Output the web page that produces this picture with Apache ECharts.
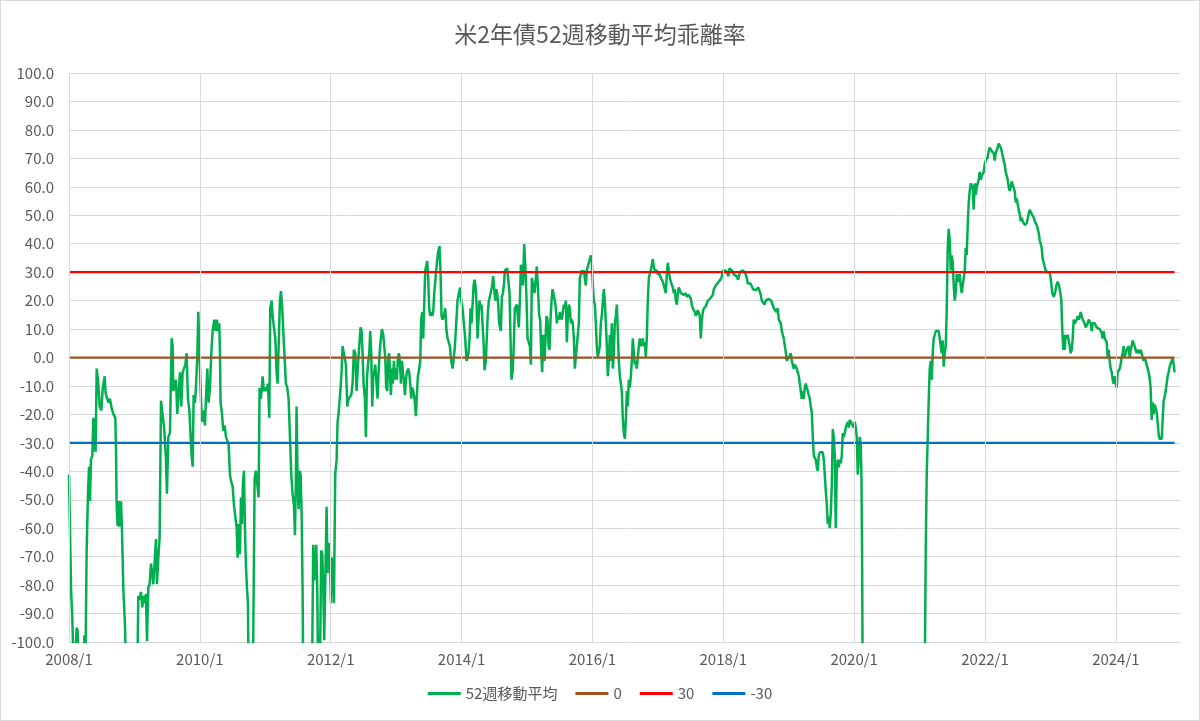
<!DOCTYPE html>
<html><head><meta charset="utf-8">
<script src="https://cdn.jsdelivr.net/npm/echarts@6/dist/echarts.min.js"></script>
<style>html,body{margin:0;padding:0;background:#fff}#c{width:1200px;height:721px;box-sizing:border-box;border:1px solid #d9d9d9}</style>
</head><body><div id="c"></div><script>
const START_YEAR = 2008;
// years elapsed since 2008/1 for each observation
const t = [
0.000,0.031,0.051,0.076,0.117,0.132,0.143,0.219,0.234,0.250,0.270,0.290,0.306,0.321,0.336,0.357,0.372,0.382,0.392,0.407,
0.423,0.443,0.469,0.494,0.514,0.545,0.560,0.581,0.601,0.626,0.652,0.677,0.708,0.718,0.728,0.743,0.759,0.774,0.795,0.810,
0.830,0.856,0.876,0.958,1.044,1.059,1.080,1.100,1.120,1.136,1.156,1.176,1.192,1.212,1.232,1.253,1.273,1.288,1.309,1.329,
1.344,1.365,1.385,1.406,1.431,1.456,1.482,1.497,1.518,
1.543,1.569,1.584,1.594,1.615,1.635,1.655,1.676,1.696,1.716,1.737,1.757,1.778,1.798,1.818,1.839,1.859,1.874,1.890,1.905,
1.925,1.940,1.961,1.976,1.991,2.007,2.027,2.042,2.063,2.078,2.093,2.114,2.134,2.154,2.175,2.195,2.221,2.241,2.261,2.282,
2.297,2.307,2.317,2.338,2.358,2.378,2.399,2.419,2.440,2.460,2.480,2.501,2.521,2.541,2.562,2.577,2.592,2.613,2.628,2.643,
2.659,2.674,2.689,2.704,2.720,2.735,2.745,2.771,2.796,2.816,2.837,2.857,2.878,2.898,2.913,2.929,2.944,2.959,2.979,3.000,
3.020,3.040,3.061,3.076,3.097,3.112,3.132,3.153,3.173,3.188,3.204,
3.224,3.239,3.259,3.275,3.295,3.315,3.336,3.356,3.377,3.397,3.417,3.438,3.453,3.468,3.478,3.494,3.509,3.524,3.540,3.555,
3.570,3.580,3.647,3.713,3.733,3.748,3.764,3.779,3.794,3.809,3.835,3.855,3.871,3.886,3.901,3.922,3.937,3.952,3.973,3.988,
4.003,4.018,4.034,4.049,4.069,4.090,4.105,4.120,4.135,4.151,4.166,4.181,4.197,4.212,4.232,4.253,4.273,4.293,4.314,4.334,
4.354,4.375,4.395,4.416,4.436,4.456,4.472,4.487,4.502,4.523,4.538,4.553,4.569,4.589,4.604,4.619,4.635,4.650,4.665,4.680,
4.701,4.716,4.731,4.747,4.767,4.782,4.803,4.818,4.833,4.848,4.864,4.879,4.894,
4.905,4.920,4.935,4.950,4.966,4.981,4.996,5.011,5.027,5.042,5.057,5.073,5.088,5.103,5.118,5.134,5.149,5.164,5.185,5.200,
5.215,5.230,5.246,5.261,5.281,5.302,5.317,5.332,5.353,5.368,5.383,5.399,5.414,5.429,5.444,5.460,5.475,5.490,5.505,5.521,
5.536,5.551,5.567,5.582,5.602,5.623,5.643,5.663,5.679,5.694,5.709,5.730,5.750,5.770,5.786,5.806,5.821,5.842,5.862,5.877,
5.898,5.918,5.938,5.959,5.979,5.994,6.015,6.035,6.055,6.076,6.091,6.106,6.122,6.137,6.152,6.168,6.183,6.198,6.213,6.229,
6.244,6.259,6.274,6.290,6.305,6.320,6.336,6.351,6.371,6.387,6.402,6.417,6.432,6.453,6.468,6.483,6.499,6.514,6.529,6.544,
6.560,6.575,
6.585,6.600,6.616,6.631,6.646,6.662,6.677,6.697,6.718,6.733,6.748,6.763,6.779,6.794,6.814,6.830,6.845,6.860,6.875,6.891,
6.906,6.921,6.937,6.957,6.977,6.993,7.008,7.023,7.044,7.059,7.074,7.094,7.115,7.135,7.150,7.171,7.186,7.201,7.217,7.232,
7.247,7.268,7.283,7.298,7.313,7.329,7.344,7.359,7.375,7.390,7.410,7.425,7.441,7.456,7.471,7.486,7.502,7.517,7.532,7.548,
7.563,7.578,7.593,7.609,7.624,7.639,7.655,7.670,7.685,7.700,7.716,7.731,7.746,7.761,7.777,7.792,7.807,7.823,7.838,7.853,
7.869,7.884,7.899,7.914,7.930,7.945,7.960,7.975,7.991,8.006,8.021,8.037,8.052,8.067,8.082,8.098,8.113,8.128,8.143,8.159,
8.174,8.189,8.205,8.220,8.235,8.250,
8.266,8.281,8.296,8.312,8.327,8.342,8.358,8.373,8.388,8.403,8.419,8.434,8.449,8.464,8.480,8.495,8.510,8.526,8.541,8.556,
8.571,8.587,8.602,8.617,8.633,8.648,8.663,8.678,8.694,8.709,8.724,8.740,8.755,8.770,8.785,8.801,8.816,8.831,8.846,8.862,
8.877,8.892,8.908,8.923,8.938,8.953,8.969,8.984,8.999,9.015,9.030,9.045,9.060,9.076,9.091,9.106,9.121,9.137,9.152,9.167,
9.183,9.198,9.213,9.228,9.244,9.259,9.274,9.290,9.305,9.320,9.335,9.351,9.366,9.381,9.396,9.412,9.427,9.442,9.458,9.473,
9.488,9.503,9.519,9.534,9.549,9.565,9.580,9.595,9.610,9.626,9.641,9.656,9.672,9.687,9.702,9.717,9.733,9.748,9.763,9.779,
9.794,9.809,9.824,9.840,9.855,9.870,9.886,9.901,9.916,9.931,
9.947,9.972,9.997,10.018,10.038,10.059,10.079,10.094,10.115,10.135,10.155,10.176,10.201,10.227,10.252,10.278,10.303,10.328,10.344,10.359,
10.374,10.395,10.415,10.435,10.456,10.476,10.497,10.517,10.537,10.558,10.573,10.588,10.609,10.629,10.649,10.670,10.690,10.711,10.731,10.751,
10.772,10.792,10.812,10.833,10.848,10.863,10.879,10.894,10.909,10.925,10.940,10.955,10.970,10.986,11.001,11.016,11.031,11.047,11.062,11.077,
11.093,11.108,11.123,11.138,11.154,11.169,11.184,11.199,11.215,11.230,11.245,11.261,11.276,11.291,11.306,11.322,11.337,11.352,11.368,11.383,
11.398,11.413,11.429,11.444,11.459,11.475,11.490,11.505,11.520,11.536,11.551,11.566,11.582,11.597,11.612,
11.627,11.643,11.658,11.673,11.688,11.704,11.719,11.734,11.750,11.765,11.780,11.795,11.811,11.826,11.841,11.856,11.872,11.887,11.902,11.918,
11.933,11.948,11.963,11.979,11.994,12.009,12.024,12.040,12.055,12.070,12.086,12.101,12.111,12.121,12.131,12.391,12.646,12.900,13.079,13.094,
13.109,13.125,13.140,13.155,13.171,13.186,13.201,13.216,13.232,13.247,13.262,13.277,13.293,
13.308,13.323,13.338,13.354,13.369,13.384,13.400,13.415,13.430,13.445,13.461,13.476,13.491,13.507,13.522,13.537,13.552,13.568,13.583,13.598,
13.613,13.629,13.644,13.659,13.675,13.690,13.705,13.720,13.736,13.751,13.766,13.781,13.797,13.812,13.827,13.843,13.858,13.873,13.888,13.904,
13.919,13.934,13.950,13.965,13.980,13.995,14.011,14.026,14.041,14.056,14.072,14.087,14.102,14.118,14.133,14.148,14.163,14.179,14.194,14.209,
14.224,14.240,14.255,14.270,14.286,14.301,14.316,14.331,14.347,14.362,14.377,14.392,14.408,14.423,14.438,14.454,14.469,14.484,14.499,14.515,
14.530,14.545,14.561,14.576,14.591,14.606,14.622,14.637,14.652,14.667,14.683,14.698,14.713,14.729,14.744,14.759,14.774,14.790,14.805,14.820,
14.836,14.851,14.866,14.881,14.897,14.912,14.927,14.942,14.958,14.973,
14.989,15.009,15.029,15.050,15.070,15.090,15.111,15.131,15.152,15.167,15.177,15.187,15.197,15.208,15.218,15.233,15.248,15.264,15.279,15.294,
15.309,15.325,15.340,15.355,15.370,15.386,15.401,15.416,15.432,15.447,15.462,15.477,15.493,15.508,15.523,15.539,15.554,15.569,15.584,15.600,
15.615,15.630,15.645,15.661,15.676,15.691,15.707,15.722,15.737,15.752,15.768,15.783,15.798,15.814,15.829,15.844,15.859,15.875,15.890,15.905,
15.920,15.936,15.951,15.966,15.981,15.997,16.012,16.027,16.043,16.058,16.073,16.088,16.104,16.119,16.134,16.150,16.165,16.180,16.195,16.211,
16.226,16.241,16.256,16.272,16.287,16.302,16.317,16.333,16.348,16.363,16.379,16.394,16.409,16.424,16.440,16.455,16.470,16.486,16.501,16.516,
16.531,16.547,16.562,16.577,16.593,16.608,16.623,16.638,16.654,16.669,16.684,16.700,16.715,16.730,16.745,16.761,16.776,16.791,16.806,16.822,
16.837,16.852,16.867,16.883,16.898
];
// 52-week moving-average deviation rate (%)
const values = [
-41.1,-81.0,-91.7,-115,-95.0,-96.0,-115,-120,-97.6,-110,-67.7,-47.8,-38.4,-50.4,-35.8,-34.5,-21.2,-33.1,-21.8,-33.1,
-3.9,-7.9,-17.2,-18.6,-11.3,-6.6,-12.5,-12.5,-15.8,-14.5,-17.9,-19.8,-21.2,-31.9,-51.9,-59.2,-50.5,-59.5,-50.5,-61.0,
-81.0,-94.4,-115,-130,-112,-83.8,-85.1,-82.4,-87.8,-83.8,-86.4,-83.1,-99.7,-81.0,-79.7,-72.4,-71.8,-79.7,-71.8,-63.8,
-79.7,-70.4,-63.1,-15.2,-14.5,-25.1,-35.9,-47.9,-27.9,
-26.5,6.8,4.1,-11.8,-11.8,-7.8,-19.8,-19.8,-5.2,-17.2,-5.2,-5.2,-2.5,1.5,-14.5,-18.5,-27.8,-34.5,-38.4,-13.2,
-16.0,-10.5,0.1,16.1,4.1,-7.8,-21.2,-22.6,-18.6,-23.9,-14.5,-3.9,-15.9,-10.6,1.5,9.3,13.3,9.3,13.3,9.3,
12.0,1.5,-15.9,-19.8,-25.8,-23.9,-27.9,-27.9,-30.6,-41.2,-43.8,-45.2,-51.9,-51.9,-59.9,-70.4,-58.5,-69.1,-49.2,-58.5,
-43.8,-39.8,-59.9,-73.1,-81.0,-86.4,-115,-125,-115,-99.0,-42.5,-39.8,-39.8,-49.2,-10.6,-14.5,-11.8,-6.6,-11.8,-10.6,
-11.8,-9.2,-21.2,17.3,20.0,14.6,10.6,6.7,-5.2,-9.2,4.0,
20.0,23.3,17.3,9.3,0.1,-9.2,-10.6,-14.5,-27.9,-41.2,-47.9,-51.9,-62.5,-42.5,-17.2,-43.8,-53.2,-39.8,-41.2,-54.5,
-81.0,-115,-135,-115,-65.8,-78.4,-77.8,-65.8,-81.0,-115,-110,-67.8,-69.1,-81.0,-99.4,-99.4,-52.5,-75.8,-65.2,-67.8,
-86.4,-70.4,-71.8,-86.4,-41.2,-35.9,-22.6,-19.8,-19.8,-10.6,-5.2,4.0,4.0,0.1,-2.5,-17.2,-14.5,-14.5,-13.2,-9.2,
2.7,1.5,-11.8,-2.5,4.0,10.6,9.3,1.5,-9.2,-14.5,-27.9,-7.8,-2.5,1.5,9.3,1.5,-17.2,-6.6,-5.2,-2.5,
-2.5,-14.5,-5.2,1.5,6.7,10.0,8.0,4.0,0.1,-10.6,-11.8,0.1,1.5,
-5.2,-13.2,-3.9,-9.2,-1.2,-7.8,-3.9,-7.8,0.1,1.5,-1.2,-9.2,-1.2,-5.2,-7.8,-13.2,-7.8,-5.2,-3.9,-5.2,
-9.2,-14.5,-10.6,-11.8,-14.5,-20.6,-13.2,-6.6,-3.9,-1.2,13.4,16.0,6.7,18.6,30.6,30.6,33.9,27.9,17.3,14.6,
16.0,14.6,16.0,22.6,27.9,33.3,37.2,39.2,29.3,14.6,13.3,14.6,17.3,9.3,6.7,6.7,4.0,-1.2,-3.9,-1.2,
4.0,12.0,20.0,22.6,24.6,20.0,17.3,12.0,6.7,-1.2,-1.2,1.5,6.7,17.3,12.0,18.6,25.3,27.3,25.3,18.6,
6.7,13.3,20.0,17.3,18.6,12.0,5.4,-4.5,-1.2,8.0,16.0,20.0,21.3,21.3,25.3,28.6,24.0,20.0,24.0,22.6,
18.6,12.0,
12.0,9.3,21.3,22.6,25.3,30.6,31.3,31.3,30.6,22.6,6.7,-7.8,-5.2,1.5,17.3,18.0,18.6,18.6,10.6,20.0,
32.6,30.6,25.3,39.9,30.6,20.0,6.7,6.0,4.0,-2.5,28.0,25.3,22.6,28.0,32.0,22.6,14.6,13.3,1.5,-5.2,
8.0,-1.2,-1.2,14.6,13.3,4.0,2.7,13.3,20.0,24.0,24.0,20.0,17.3,12.0,14.6,13.3,16.0,14.6,13.3,16.0,
18.6,17.3,20.0,5.4,14.6,18.6,17.3,12.0,13.3,12.0,6.7,-3.9,0.1,4.0,4.0,12.0,28.0,28.0,30.6,29.3,
30.6,31.3,25.3,30.6,30.6,33.3,33.3,35.9,33.3,25.3,20.0,18.6,12.0,4.0,0.1,0.1,4.0,12.0,14.6,20.0,
24.0,20.0,12.0,4.0,-6.6,-1.2,
8.0,-1.2,12.0,-3.9,1.5,12.0,14.6,18.6,9.3,-1.2,-6.6,-9.2,-11.8,-21.2,-26.6,-28.6,-22.6,-11.8,-17.2,-7.8,
-10.6,-6.6,-1.2,6.7,1.5,-2.5,-1.2,-3.9,-3.2,4.0,6.7,4.0,4.0,6.7,4.0,5.4,0.1,6.7,20.0,28.0,
27.3,30.6,30.6,34.6,32.0,30.6,31.3,30.6,29.3,28.6,29.3,28.0,28.0,26.6,25.3,24.0,22.6,29.3,33.3,30.6,
28.0,26.6,26.0,24.6,22.6,24.0,20.0,18.6,22.6,24.6,24.0,22.6,22.0,22.6,22.0,21.3,22.6,21.3,21.3,22.0,
22.6,20.6,18.6,17.3,16.6,16.0,14.6,15.3,16.6,16.0,14.6,6.7,13.3,16.0,17.3,17.3,18.0,18.6,20.0,20.0,
20.6,21.3,21.3,22.0,24.0,24.6,25.3,25.3,26.0,26.6,
26.0,28.0,30.6,31.3,30.6,31.3,28.6,31.3,31.3,30.6,29.3,30.0,28.6,27.3,30.0,30.6,30.6,30.0,29.3,28.0,
26.0,26.0,26.0,25.3,24.0,23.3,23.7,23.7,24.6,24.0,22.0,20.0,19.3,18.6,20.0,20.6,20.6,20.0,20.0,19.3,
17.3,18.0,16.0,17.3,13.3,12.6,12.0,9.3,8.0,6.7,4.0,2.0,-1.2,-0.5,0.1,0.8,1.5,-1.2,-2.5,-3.9,
-2.5,-3.2,-3.9,-5.2,-6.6,-9.2,-11.8,-14.5,-11.8,-14.5,-10.6,-9.2,-10.6,-11.8,-13.2,-14.5,-17.2,-19.2,-27.9,-34.6,
-34.6,-35.9,-38.6,-39.9,-34.6,-33.3,-33.3,-33.9,-33.3,-35.9,-41.2,-46.6,-51.9,-58.5,-56.0,
-60.0,-54.5,-45.2,-25.1,-27.9,-34.6,-59.9,-39.8,-35.9,-38.6,-35.9,-37.2,-34.6,-26.6,-27.9,-26.6,-24.6,-24.6,-22.6,-24.6,
-21.9,-22.6,-23.3,-22.6,-24.6,-22.6,-24.6,-27.9,-41.2,-35.9,-27.9,-30.6,-41.2,-67.8,-115,-160,-170,-150,-112,-67.8,
-41.2,-27.9,-14.5,-3.9,-1.2,-7.8,1.5,6.7,8.0,9.3,9.3,10.0,9.3,
9.3,4.0,1.5,6.0,-3.2,1.5,4.0,17.3,38.6,45.2,41.2,30.6,35.9,33.3,25.3,20.0,22.6,29.3,26.6,26.6,
29.3,25.3,22.6,25.3,28.0,30.6,38.6,36.0,46.6,54.5,58.5,61.2,61.9,59.9,52.0,61.2,57.2,59.9,59.9,62.5,
65.2,62.5,63.9,63.9,65.2,67.8,69.2,69.2,70.5,72.5,73.8,73.8,72.5,71.8,71.8,69.2,71.8,72.5,73.8,75.2,
74.5,73.8,72.5,71.8,69.2,67.8,65.2,64.5,62.5,59.9,58.5,59.9,61.9,62.5,61.2,58.5,54.5,55.9,55.2,51.9,
50.5,47.9,49.2,47.9,47.9,46.6,46.6,47.2,47.9,50.5,51.9,51.2,50.5,49.9,49.2,47.9,48.6,46.6,45.2,43.9,
41.2,41.2,38.6,34.6,33.3,31.9,30.6,31.3,29.9,29.3,
30.1,26.7,22.6,21.3,22.6,25.3,26.7,25.3,22.6,20.0,12.0,6.7,2.7,8.0,2.7,8.0,6.7,8.0,8.6,4.0,
1.5,2.7,6.7,13.3,12.0,12.6,13.3,14.6,13.3,14.6,16.0,15.3,13.3,13.3,12.0,10.6,11.3,12.0,13.3,13.3,
12.0,9.3,12.0,12.0,12.0,11.3,10.6,10.6,10.0,10.0,9.3,8.6,6.7,9.3,6.7,6.7,5.4,0.1,2.7,-1.2,
-3.9,-5.2,-7.8,-9.2,-6.6,-9.2,-10.6,-5.2,-5.2,-3.9,-2.5,0.1,1.5,4.0,0.1,1.5,2.7,2.7,4.0,0.1,
2.7,4.0,6.0,5.4,4.0,2.7,1.5,2.7,2.7,1.5,2.7,1.5,0.1,-1.2,0.1,-1.2,-2.5,-3.9,-5.2,-7.2,
-10.6,-21.9,-15.8,-19.8,-16.5,-17.2,-19.2,-22.6,-27.2,-28.6,-27.9,-28.6,-27.9,-15.2,-13.8,-11.8,-9.2,-6.6,-5.2,-3.2,
-2.5,-1.2,0.1,-2.5,-5.2
];
const seriesNames = ['52週移動平均', '0', '30', '-30'];
const refLevels = [0, 30, -30];
const xTickYears = [2008, 2010, 2012, 2014, 2016, 2018, 2020, 2022, 2024];
const colors = ['#00B050', '#9E5220', '#FF0000', '#0070C0'];

const mainData = t.map((v, i) => [START_YEAR + v, values[i]]);
const firstX = START_YEAR + t[0], lastX = START_YEAR + t[t.length - 1];
const FONT = "'Noto Sans CJK JP', 'Noto Sans', sans-serif";
const GRAY = '#595959', GRID = '#d9d9d9';

const chart = echarts.init(document.getElementById('c'), null, {renderer: 'canvas'});
const series = [
  {name: seriesNames[0], type: 'line', data: mainData, showSymbol: false, symbol: 'none', clip: true,
   lineStyle: {color: colors[0], width: 2.5}, itemStyle: {color: colors[0]}, z: 3}
];
refLevels.forEach((lv, i) => {
  series.push({name: seriesNames[i + 1], type: 'line', data: [[firstX, lv], [lastX, lv]], showSymbol: false, symbol: 'none',
    lineStyle: {color: colors[i + 1], width: 2.25}, itemStyle: {color: colors[i + 1]}, z: 4});
});
series.push({name: 'vgrid', type: 'line', data: [], z: 1, silent: true,
  markLine: {silent: true, symbol: ['none', 'none'], label: {show: false}, animation: false,
    lineStyle: {color: GRID, width: 1, type: 'solid'},
    data: xTickYears.map(y => ({xAxis: y}))}});

chart.setOption({
  animation: false,
  backgroundColor: '#fff',
  title: {text: '米2年債52週移動平均乖離率', left: 'center', top: 17,
    textStyle: {fontFamily: FONT, fontSize: 23, fontWeight: 'normal', color: GRAY}},
  legend: {data: seriesNames, bottom: 14, left: 'center', icon: 'rect', itemWidth: 33, itemHeight: 3, itemGap: 18,
    textStyle: {fontFamily: FONT, fontSize: 15, color: GRAY}},
  grid: {left: 68, right: 19, top: 72, bottom: 78, containLabel: false},
  xAxis: {type: 'value', min: START_YEAR, max: 2024.98, interval: 2,
    axisLine: {show: true, lineStyle: {color: GRID, width: 1}}, axisTick: {show: false},
    splitLine: {show: false},
    axisLabel: {fontFamily: FONT, fontSize: 15, color: GRAY, margin: 10,
      formatter: v => (xTickYears.indexOf(Math.round(v * 1000) / 1000) >= 0 ? v + '/1' : '')}},
  yAxis: {type: 'value', min: -100, max: 100, interval: 10,
    axisLine: {show: false}, axisTick: {show: false},
    splitLine: {show: true, lineStyle: {color: GRID, width: 1}},
    axisLabel: {fontFamily: FONT, fontSize: 15, color: GRAY, margin: 15, formatter: v => v.toFixed(1)}},
  series: series
});
</script></body></html>
